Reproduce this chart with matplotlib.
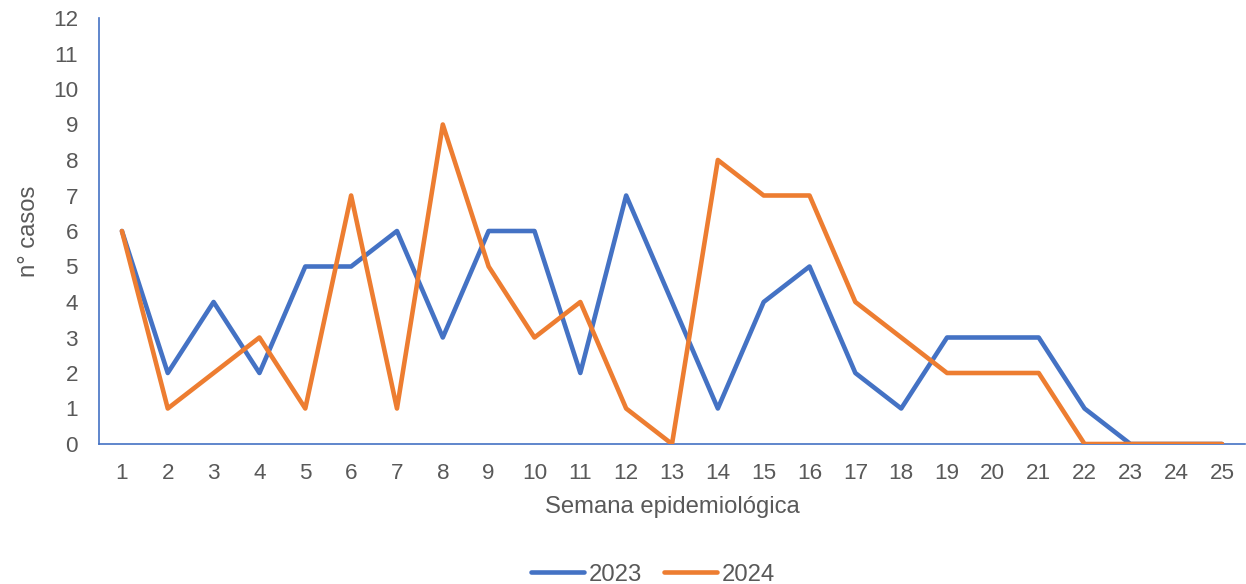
import numpy as np
from matplotlib import pyplot as plt

plt.rcParams['font.family'] = ['Liberation Sans', 'DejaVu Sans']

#weekly cases
semanas = np.arange(1, 26)
casos_2023 = [6, 2, 4, 2, 5, 5, 6, 3, 6, 6, 2, 7, 4, 1, 4, 5, 2, 1, 3, 3, 3, 1, 0, 0, 0]
casos_2024 = [6, 1, 2, 3, 1, 7, 1, 9, 5, 3, 4, 1, 0, 8, 7, 7, 4, 3, 2, 2, 2, 0, 0, 0, 0]

azul = '#4472C4'
naranja = '#ED7D31'
gris = '#595959'

fig = plt.figure(figsize=(12.46, 5.84), dpi=100)
ax = fig.add_axes([99/1246, 140/584, 1146/1246, 426/584])

ax.plot(semanas, casos_2023, color=azul, lw=3.3, label='2023',
        solid_joinstyle='round', solid_capstyle='round', zorder=3)
ax.plot(semanas, casos_2024, color=naranja, lw=3.3, label='2024',
        solid_joinstyle='round', solid_capstyle='round', zorder=4)

ax.set_xlim(0.5, 25.5)
ax.set_ylim(0, 12)
ax.set_xticks(semanas)
ax.set_yticks(range(0, 13))

for s in ['top', 'right']:
    ax.spines[s].set_visible(False)
for s in ['left', 'bottom']:
    ax.spines[s].set_color(azul)
    ax.spines[s].set_linewidth(1.2)
ax.spines['bottom'].set_zorder(2)

ax.tick_params(axis='x', length=0, pad=14, labelsize=16.2, labelcolor=gris)
ax.tick_params(axis='y', length=0, pad=15, labelsize=16.2, labelcolor=gris)

ax.set_xlabel('Semana epidemiológica', fontsize=17.2, color=gris, labelpad=8)
ax.set_ylabel('n° casos', fontsize=17.2, color=gris, labelpad=9)

fig.legend(loc='center', bbox_to_anchor=(0.524, 0.016), ncol=2, frameon=False,
           fontsize=17.2, labelcolor=gris, handlelength=2.2, handletextpad=0.2,
           columnspacing=0.95)

fig.savefig('out.png', dpi=100)
